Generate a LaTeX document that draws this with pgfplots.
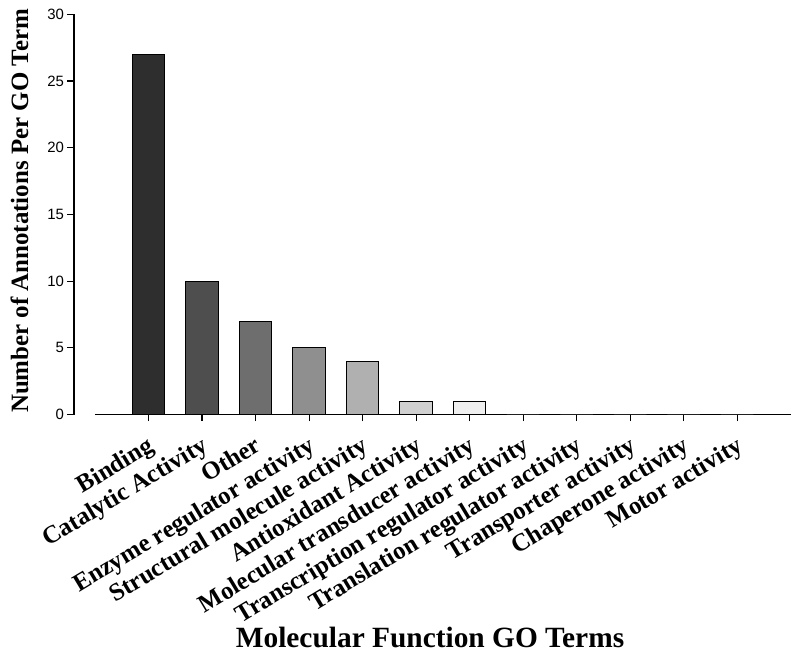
\documentclass[border=0pt]{standalone}
\usepackage{pgfplots}
\pgfplotsset{compat=1.18}
\usepackage{fontspec}
\setmainfont{Liberation Serif}
\newfontfamily\arialfont{Liberation Sans}
\definecolor{c1}{HTML}{2E2E2E}
\definecolor{c2}{HTML}{4E4E4E}
\definecolor{c3}{HTML}{6E6E6E}
\definecolor{c4}{HTML}{8F8F8F}
\definecolor{c5}{HTML}{B0B0B0}
\definecolor{c6}{HTML}{D0D0D0}
\definecolor{c7}{HTML}{EFEFEF}
\begin{document}
\begin{tikzpicture}
\begin{axis}[
  at={(0,0)}, anchor=south west,
  scale only axis,
  width=695.7bp, height=400.2bp,
  xmin=-1, xmax=12, ymin=0, ymax=30,
  axis x line=bottom, axis y line=left,
  axis line style={-, line width=1.1bp, black},
  axis y line shift=21bp,
  tick align=outside,
  major tick length=6.5bp,
  tick style={line width=1.1bp, black},
  xtick={0,...,11},
  xticklabels={Binding,Catalytic Activity,Other,Enzyme regulator activity,Structural molecule activity,Antioxidant Activity,Molecular transducer activity,Transcription regulator activity,Translation regulator activity,Transporter activity,Chaperone activity,Motor activity},
  xticklabel style={font=\bfseries\fontsize{25}{25}\selectfont, rotate=31, anchor=north east, inner sep=0pt, yshift=-11bp, xshift=-9bp},
  ytick={0,5,...,30},
  yticklabel style={font=\arialfont\fontsize{15}{15}\selectfont},
  /pgf/number format/assume math mode=true,
  xlabel={Molecular Function GO Terms},
  xlabel style={font=\bfseries\fontsize{29.5}{29.5}\selectfont, at={(axis description cs:0.4815,-0.581)}, anchor=base},
  ylabel={Number of Annotations Per GO Term},
  ylabel style={font=\bfseries\fontsize{25}{25}\selectfont, at={(axis description cs:-0.096,0.5085)}, anchor=base},
  ybar, bar width=32.5bp,
  every axis plot/.append style={draw=black, line width=0.9bp, bar shift=0pt},
]
\addplot[fill=c1] coordinates {(0,27)};
\addplot[fill=c2] coordinates {(1,10)};
\addplot[fill=c3] coordinates {(2,7)};
\addplot[fill=c4] coordinates {(3,5)};
\addplot[fill=c5] coordinates {(4,4)};
\addplot[fill=c6] coordinates {(5,1)};
\addplot[fill=c7] coordinates {(6,1)};
\addplot[fill=white, draw=none] coordinates {(7,0) (8,0) (9,0) (10,0) (11,0)};
\end{axis}
\path (-95bp,414.5bp) rectangle (705bp,-243.5bp);
\end{tikzpicture}
\end{document}
